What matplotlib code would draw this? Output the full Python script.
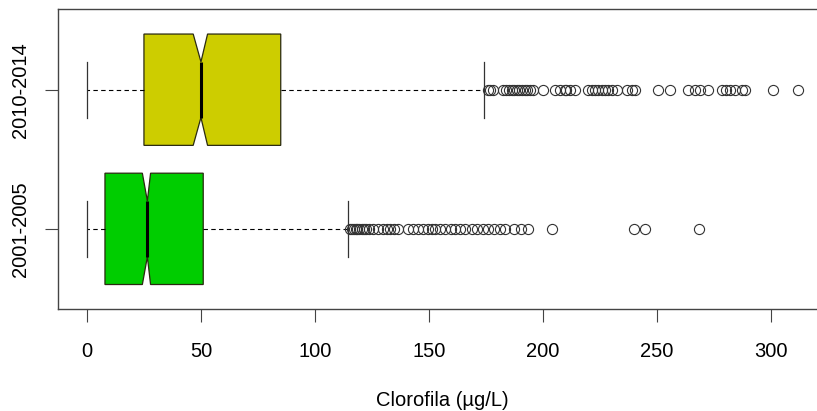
import matplotlib.pyplot as plt

plt.rcParams['font.family'] = ['Liberation Sans', 'DejaVu Sans']

# resumo dos boxplots
periodos = ["2001-2005", "2010-2014"]
cores = ["#00CD00", "#CDCD00"]
q1 = [7.9, 25.0]
mediana = [26.5, 50.0]
q3 = [51.0, 85.0]
ic_inf = [24.3, 46.6]
ic_sup = [27.9, 52.9]
bigode_inf = [0.0, 0.0]
bigode_sup = [114.5, 174.0]

outliers_2001 = [115.5, 116.2, 117.0, 117.8, 118.5, 119.5, 120.5, 121.5, 122.5, 123.5,
                 125.5, 127.8, 130.0, 131.5, 133.0, 134.5, 136.5, 141.0, 143.0, 145.3,
                 147.5, 149.5, 151.2, 152.6, 154.8, 157.0, 159.5, 161.4, 163.5, 166.0,
                 168.7, 171.0, 173.5, 176.0, 178.5, 181.0, 183.5, 187.5, 190.5, 193.5,
                 204.0, 240.0, 244.7, 268.6]
outliers_2010 = [176.0, 177.0, 178.0, 182.5, 184.0, 185.0, 186.3, 187.5, 188.5, 189.5,
                 190.7, 192.0, 193.0, 194.3, 195.7, 200.0, 205.3, 207.5, 209.6, 210.3,
                 211.8, 214.0, 219.9, 221.4, 222.8, 224.3, 225.7, 227.2, 228.6, 230.1,
                 232.3, 236.7, 238.9, 240.4, 250.6, 255.7, 263.7, 266.7, 268.9, 272.5,
                 278.4, 280.5, 282.0, 284.2, 287.1, 288.6, 301.0, 312.0]
outliers = [outliers_2001, outliers_2010]

stats = []
for i in range(len(periodos)):
    stats.append({
        "label": periodos[i],
        "q1": q1[i], "med": mediana[i], "q3": q3[i],
        "cilo": ic_inf[i], "cihi": ic_sup[i],
        "whislo": bigode_inf[i], "whishi": bigode_sup[i],
        "fliers": outliers[i],
    })

fig = plt.figure(figsize=(8.17, 4.11), dpi=100)
ax = fig.add_axes([58 / 817, (411 - 309) / 411, (827 - 58) / 817, 300 / 411])

bp = ax.bxp(stats, positions=[1, 2], widths=0.8, orientation="horizontal",
            shownotches=True, patch_artist=True,
            boxprops=dict(edgecolor="#2a2a10", linewidth=0.9),
            medianprops=dict(color="black", linewidth=2.2, solid_capstyle="butt"),
            whiskerprops=dict(color="black", linewidth=0.8, linestyle=(0, (4, 3))),
            capprops=dict(color="#333333", linewidth=0.9),
            flierprops=dict(marker="o", markersize=7.3, markerfacecolor="none",
                            markeredgecolor="#333333", markeredgewidth=0.8))
for caixa, cor in zip(bp["boxes"], cores):
    caixa.set_facecolor(cor)

ax.set_xlim(-12.7, 324.6)
ax.set_ylim(0.424, 2.58)
ax.set_xticks([0, 50, 100, 150, 200, 250, 300])
ax.set_yticks([1, 2])
ax.set_yticklabels(periodos, rotation=90, va="center")
ax.tick_params(axis="both", labelsize=14.5, length=9.5, width=0.8, color="#444444")
ax.tick_params(axis="x", pad=14)
ax.tick_params(axis="y", pad=11)
for s in ax.spines.values():
    s.set_color("#444444")
    s.set_linewidth(1.0)

ax.set_xlabel("Clorofila (µg/L)", fontsize=14.5, labelpad=22)

fig.savefig("out.png", dpi=100)
